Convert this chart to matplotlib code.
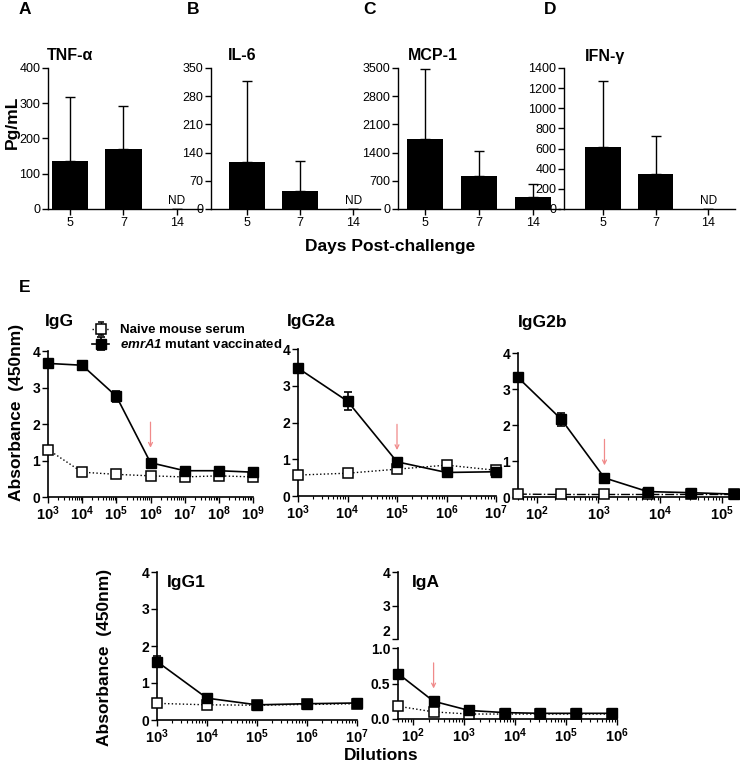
import matplotlib
matplotlib.use("Agg")
import matplotlib.pyplot as plt
from matplotlib.ticker import FixedLocator, LogLocator, NullFormatter, FixedFormatter
import numpy as np

plt.rcParams['font.family'] = ['Liberation Sans', 'DejaVu Sans']
plt.rcParams['mathtext.fontset'] = 'custom'
plt.rcParams['mathtext.rm'] = 'Liberation Sans:bold:italic'
plt.rcParams['mathtext.bf'] = 'Liberation Sans:bold'
plt.rcParams['mathtext.it'] = 'Liberation Sans:bold:italic'
plt.rcParams['mathtext.default'] = 'bf'

# ---------------- data: cytokines ----------------
days = ['5', '7', '14']
tnf_mean = [136, 170, 0]
tnf_err = [183, 123, 0]
il6_mean = [117, 44, 0]
il6_err = [201, 76, 0]
mcp_mean = [1743, 817, 309]
mcp_err = [1732, 621, 312]
ifn_mean = [614, 344, 0]
ifn_err = [655, 376, 0]

# ---------------- data: antibody titres ----------------
igg_dil = [1e3, 1e4, 1e5, 1e6, 1e7, 1e8, 1e9]
igg_vacc = [3.66, 3.61, 2.76, 0.94, 0.72, 0.72, 0.68]
igg_vacc_err = [0.08, 0.04, 0.15, 0.06, 0.05, 0.05, 0.05]
igg_naive = [1.30, 0.68, 0.62, 0.58, 0.55, 0.58, 0.55]

igg2a_dil = [1e3, 1e4, 1e5, 1e6, 1e7]
igg2a_vacc = [3.48, 2.58, 0.93, 0.64, 0.66]
igg2a_vacc_err = [0.08, 0.25, 0.08, 0.05, 0.05]
igg2a_naive = [0.57, 0.62, 0.73, 0.84, 0.70]

igg2b_dil = [50, 250, 1250, 6250, 31250, 156250]
igg2b_vacc = [3.32, 2.16, 0.53, 0.15, 0.12, 0.08]
igg2b_vacc_err = [0.05, 0.18, 0.05, 0.04, 0.03, 0.02]
igg2b_naive = [0.08, 0.07, 0.07, 0.07, 0.07, 0.07]

igg1_dil = [1e3, 1e4, 1e5, 1e6, 1e7]
igg1_vacc = [1.58, 0.59, 0.41, 0.44, 0.46]
igg1_vacc_err = [0.15, 0.05, 0.03, 0.03, 0.03]
igg1_naive = [0.45, 0.41, 0.40, 0.42, 0.44]

iga_dil = [50, 250, 1250, 6250, 31250, 156250, 781250]
iga_vacc = [0.64, 0.25, 0.12, 0.09, 0.08, 0.08, 0.08]
iga_vacc_err = [0.03, 0.03, 0.02, 0.01, 0.01, 0.01, 0.01]
iga_naive = [0.18, 0.10, 0.07, 0.07, 0.07, 0.07, 0.07]

# titre end-point arrows: (dilution, start, end)
igg_arrow = (1e6, 2.05, 1.35)
igg2a_arrow = (1e5, 1.95, 1.25)
igg2b_arrow = (1250, 1.6, 0.88)
iga_arrow = (250, 0.79, 0.43)

W, H = 740, 771
fig = plt.figure(figsize=(W / 100, H / 100), dpi=100)


def add_ax(l, t, r, b):
    return fig.add_axes([l / W, 1 - b / H, (r - l) / W, (b - t) / H])


def ftext(x, y, s, **kw):
    return fig.text(x / W, 1 - y / H, s, **kw)


def style(ax, lw=1.2):
    for s in ['top', 'right']:
        ax.spines[s].set_visible(False)
    for s in ['left', 'bottom']:
        ax.spines[s].set_linewidth(lw)
    ax.tick_params(direction='out', length=4, width=1, pad=1.5)
    ax.tick_params(which='minor', direction='out', length=2.5, width=0.8)


# ---------------- top bar panels ----------------
def bar_panel(box, xlim, mean, err, ymax, step, nd_flags):
    ax = add_ax(*box)
    x = np.arange(len(days))
    ax.bar(x, mean, width=0.68, color='black', zorder=2)
    ax.errorbar(x, mean, yerr=[[0] * len(err), err], fmt='none', ecolor='black',
                elinewidth=1, capsize=3.6, capthick=1, zorder=1)
    ax.set_xlim(*xlim)
    ax.set_ylim(0, ymax)
    ax.set_yticks(np.arange(0, ymax + 1, step))
    ax.set_xticks(x)
    ax.set_xticklabels(days)
    style(ax, 1.0)
    ax.tick_params(labelsize=9)
    for i, f in enumerate(nd_flags):
        if f:
            ax.text(x[i], ymax * 0.012, 'ND', ha='center', va='bottom', fontsize=8.5)
    return ax


bar_panel((48, 68, 202, 209), (-0.41, 2.47), tnf_mean, tnf_err, 400, 100, [0, 0, 1])
bar_panel((211, 68, 380, 209), (-0.675, 2.5), il6_mean, il6_err, 350, 70, [0, 0, 1])
bar_panel((398, 68, 560, 209), (-0.5, 2.5), mcp_mean, mcp_err, 3500, 700, [0, 0, 0])
bar_panel((564, 68, 735, 209), (-0.74, 2.51), ifn_mean, ifn_err, 1400, 200, [0, 0, 1])

for x, y, s in [(19, 10, 'A'), (187, 10, 'B'), (363, 10, 'C'), (544, 10, 'D'), (19, 288, 'E')]:
    ftext(x, y, s, fontsize=12.5, fontweight='bold', va='center', ha='left')
for x, s in [(47, 'TNF-α'), (228, 'IL-6'), (408, 'MCP-1'), (585, 'IFN-γ')]:
    ftext(x, 56, s, fontsize=11.5, fontweight='bold', va='center', ha='left')
ftext(12, 122, 'Pg/mL', fontsize=12.5, fontweight='bold', rotation=90, va='center', ha='center')
ftext(390, 247, 'Days Post-challenge', fontsize=12.5, fontweight='bold', va='center', ha='center')


# ---------------- antibody panels ----------------
def decade_labels(ax, exps):
    ax.xaxis.set_major_locator(FixedLocator([10.0 ** e for e in exps]))
    ax.xaxis.set_major_formatter(FixedFormatter([r'$10^{%d}$' % e for e in exps]))
    ax.xaxis.set_minor_locator(LogLocator(base=10, subs=np.arange(2, 10), numticks=50))
    ax.xaxis.set_minor_formatter(NullFormatter())
    ax.tick_params(axis='x', labelsize=10.5)


def unclip(container):
    for art in container.get_children():
        art.set_clip_on(False)


def line_panel(ax, dil, naive, vacc, vacc_err, arrow, naive_ls=':'):
    n = ax.errorbar(dil, naive, yerr=[0.03] * len(naive), ls=naive_ls, marker='s',
                    mfc='white', mec='black', color='black', ms=7.5, mew=1.1, lw=1,
                    capsize=2.5, zorder=3, label='Naive mouse serum')
    v = ax.errorbar(dil, vacc, yerr=vacc_err, ls='-', marker='s', mfc='black',
                    mec='black', color='black', ms=7.5, lw=1.2, capsize=3, capthick=1.2,
                    zorder=4, label=r'$\mathit{emrA1}$ mutant vaccinated')
    unclip(n)
    unclip(v)
    ax.annotate('', xy=(arrow[0], arrow[2]), xytext=(arrow[0], arrow[1]),
                arrowprops=dict(arrowstyle='->', color='#f08a8a', lw=0.9,
                                shrinkA=0, shrinkB=0, mutation_scale=7))
    ax.set_xscale('log')
    style(ax)
    ax.tick_params(axis='y', labelsize=10)
    for lab in ax.get_yticklabels():
        lab.set_fontweight('bold')
    return n, v


def abs_axes(box):
    ax = add_ax(*box)
    ax.set_ylim(0, 4)
    ax.set_yticks([0, 1, 2, 3, 4])
    ax.set_yticklabels(['0', '1', '2', '3', '4'], fontweight='bold')
    return ax


ax_igg = abs_axes((48, 351, 253, 497))
n_h, v_h = line_panel(ax_igg, igg_dil, igg_naive, igg_vacc, igg_vacc_err, igg_arrow)
decade_labels(ax_igg, [3, 4, 5, 6, 7, 8, 9])
ax_igg.set_xlim(1e3, 1e9)

ax_2a = abs_axes((298, 349, 496, 496))
line_panel(ax_2a, igg2a_dil, igg2a_naive, igg2a_vacc, igg2a_vacc_err, igg2a_arrow)
decade_labels(ax_2a, [3, 4, 5, 6, 7])
ax_2a.set_xlim(1e3, 1e7)

ax_2b = abs_axes((518, 353, 738, 497))
line_panel(ax_2b, igg2b_dil, igg2b_naive, igg2b_vacc, igg2b_vacc_err, igg2b_arrow, naive_ls='-.')
decade_labels(ax_2b, [2, 3, 4, 5])
ax_2b.set_xlim(50, 1.8e5)

ax_1 = abs_axes((157, 572, 357, 720))
line_panel(ax_1, igg1_dil, igg1_naive, igg1_vacc, igg1_vacc_err, (1e3, -1, -1))
decade_labels(ax_1, [3, 4, 5, 6, 7])
ax_1.set_xlim(1e3, 1e7)

# IgA with broken y axis
ax_a = add_ax(398, 648, 617, 719)
line_panel(ax_a, iga_dil, iga_naive, iga_vacc, iga_vacc_err, iga_arrow)
decade_labels(ax_a, [2, 3, 4, 5, 6])
ax_a.set_xlim(50, 1e6)
ax_a.set_ylim(0, 1.0)
ax_a.set_yticks([0, 0.5, 1.0])
ax_a.set_yticklabels(['0.0', '0.5', '1.0'], fontweight='bold')

ax_au = add_ax(398, 572, 617, 639)
ax_au.set_xscale('log')
ax_au.set_xlim(50, 1e6)
ax_au.set_ylim(2, 4)
ax_au.set_yticks([2, 3, 4])
ax_au.set_yticklabels(['2', '3', '4'], fontweight='bold')
style(ax_au)
ax_au.spines['bottom'].set_visible(False)
ax_au.set_xticks([])
ax_au.xaxis.set_minor_locator(FixedLocator([]))
ax_au.tick_params(labelsize=10)
ax_au.patch.set_visible(False)
for lab in ax_au.get_yticklabels():
    lab.set_va('bottom') if lab.get_text() == '2' else None

# titles
ftext(45, 321, 'IgG', fontsize=12.5, fontweight='bold', va='center')
ftext(287, 321, 'IgG2a', fontsize=12.5, fontweight='bold', va='center')
ftext(518, 322, 'IgG2b', fontsize=12.5, fontweight='bold', va='center')
ftext(167, 582, 'IgG1', fontsize=12.5, fontweight='bold', va='center')
ftext(412, 582, 'IgA', fontsize=12.5, fontweight='bold', va='center')

ftext(17, 412, 'Absorbance  (450nm)', fontsize=12.5, fontweight='bold', rotation=90,
      va='center', ha='center')
ftext(105, 657, 'Absorbance  (450nm)', fontsize=12.5, fontweight='bold', rotation=90,
      va='center', ha='center')
ftext(381, 755, 'Dilutions', fontsize=12.5, fontweight='bold', va='center', ha='center')

leg = fig.legend(handles=[n_h, v_h], loc='upper left',
                 bbox_to_anchor=(92 / W, 1 - 324 / H), frameon=False,
                 prop={'weight': 'bold', 'size': 9.5}, handlelength=1.3,
                 handletextpad=0.8, labelspacing=0.15, borderpad=0, borderaxespad=0)

fig.savefig('out.png', dpi=100)
